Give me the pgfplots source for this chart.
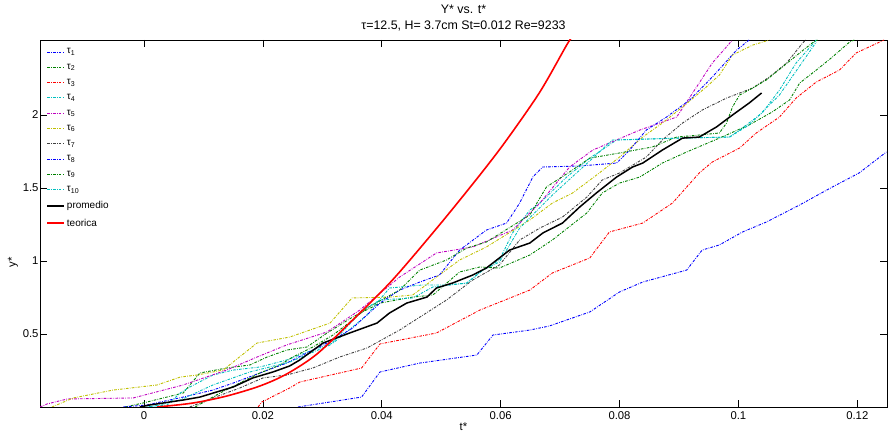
\documentclass[border=0pt]{standalone}
\usepackage{fontspec}
\setmainfont{Liberation Sans}
\usepackage{pgfplots}
\pgfplotsset{compat=1.18}
\definecolor{mblue}{rgb}{0,0,1}
\definecolor{mgreen}{rgb}{0,0.5,0}
\definecolor{mred}{rgb}{1,0,0}
\definecolor{mcyan}{rgb}{0,0.75,0.75}
\definecolor{mmag}{rgb}{0.75,0,0.75}
\definecolor{myel}{rgb}{0.75,0.75,0}
\definecolor{mgray}{rgb}{0.25,0.25,0.25}
\tikzset{dd/.style={line width=0.9pt, dash pattern=on 2.6pt off 1.3pt on 0.7pt off 1.3pt}}
\begin{document}
\begin{tikzpicture}
\begin{axis}[
  at={(40pt,29pt)}, anchor=south west,
  scale only axis, width=847pt, height=367pt,
  xmin=-0.0175, xmax=0.125, ymin=0, ymax=2.514,
  xtick={0,0.02,0.04,0.06,0.08,0.1,0.12},
  xticklabels={0,0.02,0.04,0.06,0.08,0.1,0.12},
  ytick={0.5,1,1.5,2},
  yticklabels={0.5,1,1.5,2},
  tick align=inside, major tick length=7pt,
  tick style={black, line width=0.6pt},
  axis line style={line width=0.9pt},
  ticklabel style={font=\fontsize{11.3}{13}\selectfont},
  xticklabel style={yshift=-1pt},
  yticklabel style={xshift=2pt},
  xlabel={t*},
  xlabel style={font=\fontsize{11.3}{13}\selectfont, at={(axis description cs:0.5,0)}, anchor=north, yshift=-12pt},
  ylabel={y*},
  ylabel style={font=\fontsize{11.3}{13}\selectfont, at={(axis description cs:-0.032,0.395)}, anchor=center, rotate=0},
  title={Y* vs. t*\\τ=12.5, H= 3.7cm St=0.012 Re=9233},
  title style={align=center, font=\fontsize{12.4}{16}\selectfont, at={(axis description cs:0.5,1)}, anchor=south, yshift=-1pt},
  legend style={at={(0.006,0.985)}, anchor=north west, draw=none, fill=none,
    font=\fontsize{10}{11}\selectfont, row sep=4.5pt, inner sep=1pt},
  legend cell align=left,
  clip=true,
]
\addplot[dd, mblue] coordinates {(0.0259,0) (0.0366,0.068) (0.0397,0.240) (0.0464,0.301) (0.0560,0.356) (0.0587,0.493) (0.0649,0.527) (0.0682,0.555) (0.0750,0.651) (0.0800,0.788) (0.0839,0.856) (0.0913,0.938) (0.0939,1.075) (0.0968,1.110) (0.1007,1.199) (0.1047,1.267) (0.1103,1.384) (0.1158,1.507) (0.1203,1.603) (0.1249,1.747)};
\addlegendentry{τ\textsubscript{1}}
\addplot[dd, mgreen] coordinates {(-0.0032,0) (-0.0002,0.027) (0.0066,0.096) (0.0094,0.233) (0.0139,0.267) (0.0178,0.288) (0.0207,0.342) (0.0240,0.390) (0.0274,0.411) (0.0308,0.507) (0.0351,0.616) (0.0397,0.712) (0.0452,0.753) (0.0486,0.767) (0.0531,0.925) (0.0565,0.959) (0.0598,0.952) (0.0649,1.041) (0.0687,1.144) (0.0745,1.329) (0.0771,1.466) (0.0800,1.534) (0.0834,1.575) (0.0872,1.671) (0.0913,1.747) (0.0968,1.842) (0.1018,1.932) (0.1057,2.021) (0.1086,2.103) (0.1103,2.219) (0.1131,2.308) (0.1158,2.397) (0.1187,2.500) (0.1195,2.514)};
\addlegendentry{τ\textsubscript{2}}
\addplot[dd, mred] coordinates {(0.0192,0) (0.0198,0.034) (0.0245,0.130) (0.0262,0.171) (0.0366,0.267) (0.0397,0.432) (0.0492,0.507) (0.0565,0.664) (0.0649,0.801) (0.0687,0.918) (0.0750,1.021) (0.0783,1.199) (0.0839,1.260) (0.0889,1.397) (0.0934,1.603) (0.0956,1.678) (0.1002,1.774) (0.1030,1.877) (0.1069,1.986) (0.1097,2.116) (0.1131,2.226) (0.1170,2.308) (0.1198,2.425) (0.1245,2.514)};
\addlegendentry{τ\textsubscript{3}}
\addplot[dd, mcyan] coordinates {(-0.0002,0) (0.0039,0.014) (0.0061,0.096) (0.0077,0.137) (0.0116,0.219) (0.0150,0.253) (0.0195,0.274) (0.0240,0.322) (0.0284,0.390) (0.0318,0.438) (0.0351,0.548) (0.0375,0.630) (0.0413,0.815) (0.0469,0.836) (0.0509,0.836) (0.0543,0.849) (0.0570,0.938) (0.0598,1.007) (0.0620,1.192) (0.0649,1.349) (0.0666,1.397) (0.0711,1.575) (0.0750,1.705) (0.0795,1.829) (0.0901,1.842) (0.0985,1.849) (0.1002,1.897) (0.1040,2.014) (0.1069,2.171) (0.1097,2.356) (0.1131,2.514)};
\addlegendentry{τ\textsubscript{4}}
\addplot[dd, mmag] coordinates {(-0.0175,0) (-0.0163,0.021) (-0.0129,0.055) (-0.0018,0.062) (0.0066,0.151) (0.0139,0.253) (0.0190,0.342) (0.0240,0.425) (0.0308,0.514) (0.0363,0.664) (0.0430,0.890) (0.0492,1.055) (0.0553,1.096) (0.0620,1.212) (0.0666,1.397) (0.0716,1.644) (0.0755,1.760) (0.0834,1.897) (0.0896,1.986) (0.0923,2.151) (0.0956,2.356) (0.0990,2.514)};
\addlegendentry{τ\textsubscript{5}}
\addplot[dd, myel] coordinates {(-0.0155,0) (-0.0119,0.062) (-0.0052,0.116) (0.0022,0.151) (0.0061,0.205) (0.0089,0.219) (0.0133,0.253) (0.0190,0.438) (0.0245,0.479) (0.0313,0.575) (0.0350,0.747) (0.0413,0.753) (0.0452,0.767) (0.0492,0.890) (0.0531,1.007) (0.0576,1.096) (0.0649,1.281) (0.0687,1.397) (0.0721,1.466) (0.0766,1.603) (0.0800,1.712) (0.0839,1.849) (0.0872,1.945) (0.0906,2.055) (0.0946,2.192) (0.0968,2.274) (0.0990,2.411) (0.1024,2.479) (0.1052,2.514)};
\addlegendentry{τ\textsubscript{6}}
\addplot[dd, mgray] coordinates {(0.0077,0) (0.0116,0.062) (0.0161,0.130) (0.0200,0.199) (0.0240,0.219) (0.0284,0.267) (0.0329,0.342) (0.0375,0.404) (0.0430,0.527) (0.0509,0.733) (0.0553,0.870) (0.0598,0.973) (0.0632,1.144) (0.0666,1.226) (0.0704,1.301) (0.0745,1.438) (0.0771,1.555) (0.0800,1.603) (0.0845,1.712) (0.0872,1.829) (0.0906,1.945) (0.0939,2.034) (0.0980,2.116) (0.1024,2.185) (0.1052,2.260) (0.1081,2.356) (0.1108,2.493) (0.1113,2.514)};
\addlegendentry{τ\textsubscript{7}}
\addplot[dd, mblue] coordinates {(-0.0035,0) (0.0005,0.014) (0.0066,0.068) (0.0116,0.116) (0.0150,0.164) (0.0195,0.233) (0.0240,0.301) (0.0284,0.390) (0.0318,0.459) (0.0351,0.541) (0.0397,0.712) (0.0430,0.801) (0.0464,0.856) (0.0497,0.904) (0.0531,1.075) (0.0576,1.212) (0.0610,1.260) (0.0632,1.397) (0.0654,1.575) (0.0671,1.644) (0.0733,1.651) (0.0795,1.671) (0.0817,1.760) (0.0845,1.897) (0.0879,1.986) (0.0918,2.103) (0.0956,2.260) (0.0997,2.445) (0.1018,2.514)};
\addlegendentry{τ\textsubscript{8}}
\addplot[dd, mgreen] coordinates {(0.0086,0) (0.0128,0.096) (0.0161,0.164) (0.0195,0.233) (0.0229,0.288) (0.0250,0.342) (0.0284,0.411) (0.0318,0.493) (0.0351,0.596) (0.0375,0.678) (0.0430,0.801) (0.0464,0.938) (0.0509,1.007) (0.0543,1.089) (0.0576,1.130) (0.0649,1.315) (0.0677,1.507) (0.0716,1.610) (0.0750,1.705) (0.0800,1.740) (0.0855,1.781) (0.0896,1.849) (0.0934,1.863) (0.0968,1.877) (0.0980,1.945) (0.0990,2.055) (0.1002,2.137) (0.1024,2.185) (0.1047,2.240) (0.1074,2.329) (0.1103,2.425) (0.1124,2.493) (0.1133,2.514)};
\addlegendentry{τ\textsubscript{9}}
\addplot[dd, mcyan] coordinates {(0.0010,0) (0.0061,0.048) (0.0116,0.151) (0.0178,0.240) (0.0245,0.308) (0.0313,0.425) (0.0368,0.664) (0.0397,0.733) (0.0452,0.747) (0.0486,0.822) (0.0543,0.849) (0.0570,0.938) (0.0598,0.993) (0.0632,1.226) (0.0687,1.452) (0.0733,1.623) (0.0788,1.829) (0.0901,1.842) (0.0985,1.849) (0.1018,1.932) (0.1069,2.137) (0.1131,2.500)};
\addlegendentry{τ\textsubscript{10}}
\addplot[black, line width=1.5pt] coordinates {(-0.0007,0) (0.0010,0.014) (0.0066,0.048) (0.0094,0.068) (0.0150,0.137) (0.0183,0.199) (0.0217,0.240) (0.0245,0.281) (0.0262,0.322) (0.0301,0.438) (0.0346,0.507) (0.0392,0.575) (0.0413,0.644) (0.0442,0.712) (0.0476,0.753) (0.0492,0.815) (0.0519,0.849) (0.0553,0.904) (0.0576,0.952) (0.0615,1.075) (0.0649,1.123) (0.0671,1.192) (0.0704,1.260) (0.0733,1.370) (0.0761,1.466) (0.0795,1.575) (0.0822,1.644) (0.0839,1.671) (0.0872,1.760) (0.0906,1.842) (0.0934,1.849) (0.0963,1.918) (0.0990,2.000) (0.1018,2.082) (0.1039,2.151)};
\addlegendentry{promedio}
\addplot[mred, line width=1.6pt, smooth] coordinates {(0.0022,0) (0.0082,0.027) (0.0139,0.075) (0.0195,0.144) (0.0240,0.226) (0.0291,0.363) (0.0351,0.596) (0.0418,0.870) (0.0497,1.247) (0.0565,1.589) (0.0610,1.829) (0.0666,2.158) (0.0711,2.479) (0.0719,2.527)};
\addlegendentry{teorica}
\end{axis}
\pgfresetboundingbox
\path[use as bounding box] (0,0) rectangle (888pt,436pt);
\end{tikzpicture}
\end{document}
